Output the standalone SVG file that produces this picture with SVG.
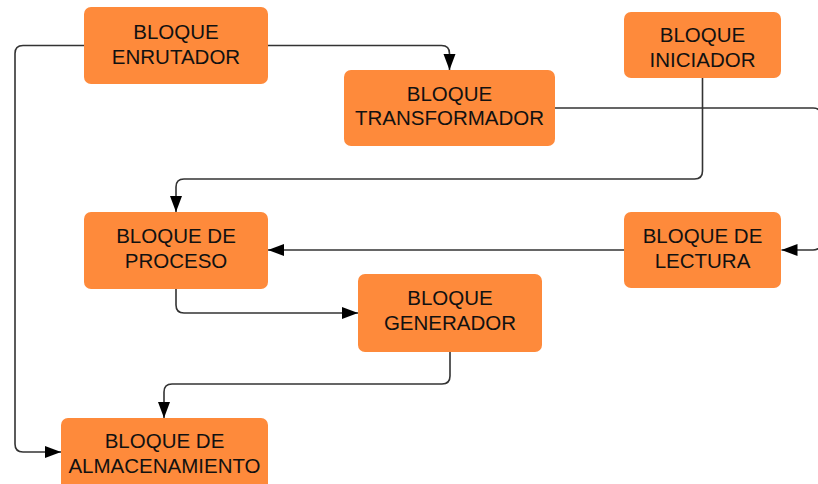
<svg xmlns="http://www.w3.org/2000/svg" width="818" height="484" viewBox="0 0 818 484">
  <style>
    .box { fill: #FE8A3B; }
    .lbl { font-family: "Liberation Sans", Arial, sans-serif; font-size: 20.5px; fill: #111; text-anchor: middle; }
    .edge { fill: none; stroke: #333; stroke-width: 1.6; marker-end: url(#arrow); }
  </style>
  <defs>
    <marker id="arrow" markerUnits="userSpaceOnUse" markerWidth="17" markerHeight="13" refX="16" refY="6" orient="auto">
      <path d="M0,0 L16,6 L0,12 z" fill="#000"/>
    </marker>
  </defs>
  <rect width="818" height="484" fill="#fff"/>

  <g id="connectors">
    <!-- enrutador -> transformador -->
    <path class="edge" d="M268,45.5 H441.5 Q449.5,45.5 449.5,53.5 V70"/>
    <!-- enrutador -> almacenamiento (left rail) -->
    <path class="edge" d="M84,45.5 H23 Q15,45.5 15,53.5 V444 Q15,452 23,452 H61"/>
    <!-- transformador -> lectura (right rail, runs past the edge) -->
    <path class="edge" d="M555,108 H813 Q821,108 821,116 V242 Q821,250 813,250 H781.5"/>
    <!-- iniciador -> proceso -->
    <path class="edge" d="M702.5,78 V171 Q702.5,179 694.5,179 H184 Q176,179 176,187 V212"/>
    <!-- lectura -> proceso -->
    <path class="edge" d="M624,250 H268"/>
    <!-- proceso -> generador -->
    <path class="edge" d="M176,289 V305 Q176,313 184,313 H358"/>
    <!-- generador -> almacenamiento -->
    <path class="edge" d="M450,352 V376 Q450,384 442,384 H172 Q164,384 164,392 V418"/>
  </g>

  <g id="enrutador">
    <rect class="box" x="84" y="7" width="184" height="77" rx="7"/>
    <text class="lbl" x="176" y="39">BLOQUE</text>
    <text class="lbl" x="176" y="63.5">ENRUTADOR</text>
  </g>

  <g id="transformador">
    <rect class="box" x="344" y="70" width="211" height="76" rx="7"/>
    <text class="lbl" x="449.5" y="100.5">BLOQUE</text>
    <text class="lbl" x="449.5" y="125">TRANSFORMADOR</text>
  </g>

  <g id="iniciador">
    <rect class="box" x="624" y="12" width="157" height="66" rx="7"/>
    <text class="lbl" x="702.5" y="42">BLOQUE</text>
    <text class="lbl" x="702.5" y="66.5">INICIADOR</text>
  </g>

  <g id="proceso">
    <rect class="box" x="84" y="212" width="184" height="77" rx="7"/>
    <text class="lbl" x="176" y="243.3">BLOQUE DE</text>
    <text class="lbl" x="176" y="267.5">PROCESO</text>
  </g>

  <g id="lectura">
    <rect class="box" x="624" y="212" width="157" height="76" rx="7"/>
    <text class="lbl" x="702.5" y="243.3">BLOQUE DE</text>
    <text class="lbl" x="702.5" y="267.5">LECTURA</text>
  </g>

  <g id="generador">
    <rect class="box" x="358" y="274" width="184" height="78" rx="7"/>
    <text class="lbl" x="450" y="305">BLOQUE</text>
    <text class="lbl" x="450" y="329.5">GENERADOR</text>
  </g>

  <g id="almacenamiento">
    <rect class="box" x="61" y="418" width="207" height="80" rx="7"/>
    <text class="lbl" x="164.5" y="448.3">BLOQUE DE</text>
    <text class="lbl" x="164.5" y="472.5">ALMACENAMIENTO</text>
  </g>
</svg>
